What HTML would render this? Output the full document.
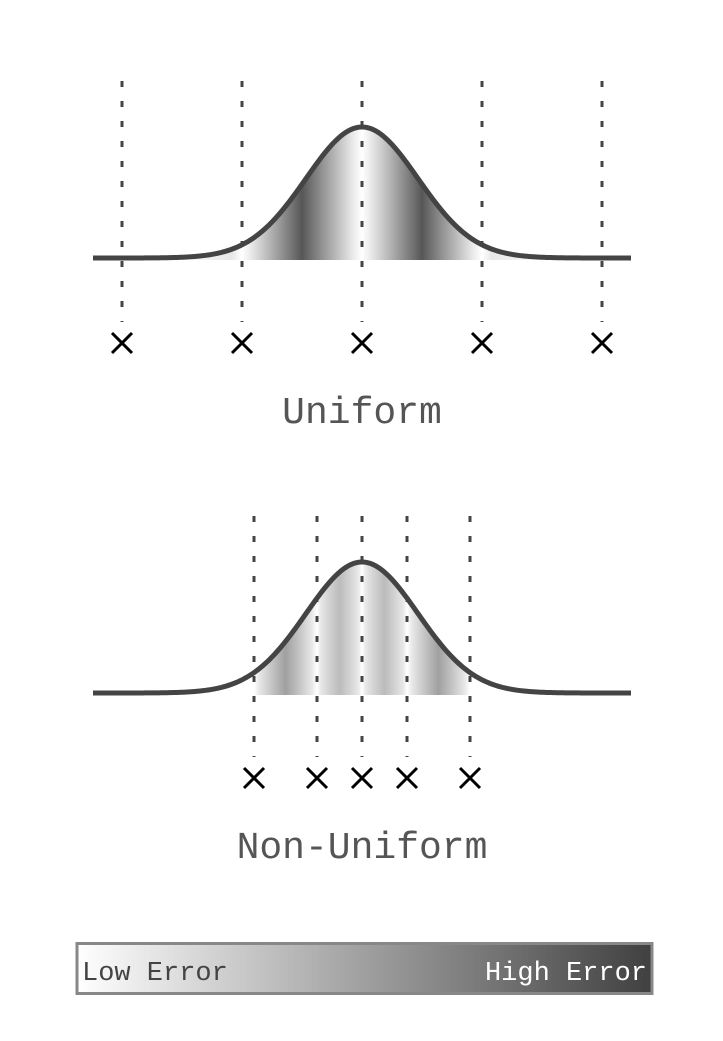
<!DOCTYPE html>
<html><head><meta charset="utf-8"><style>
html,body{margin:0;padding:0;background:#fff;}
svg{display:block;}
text{font-family:"Liberation Mono","DejaVu Sans Mono",monospace;}
</style></head><body>
<svg id="chart" width="723" height="1041" viewBox="0 0 723 1041">
<defs>
<linearGradient id="cbar" x1="0" x2="1" y1="0" y2="0">
<stop offset="0" stop-color="#ffffff"/><stop offset="1" stop-color="#404040"/>
</linearGradient>
</defs>
<g id="panels"></g>
<g>
<rect x="77" y="943.5" width="575" height="50" fill="url(#cbar)" stroke="#888" stroke-width="3"/>
<text x="82" y="980" font-size="27" fill="#444">Low Error</text>
<text x="647" y="980" font-size="27" fill="#fff" text-anchor="end">High Error</text>
</g>
</svg>
<script>
const NS="http://www.w3.org/2000/svg";
const uniformSamples=[-2,-1,0,1,2];
const nonUniformSamples=[-0.9,-0.375,0,0.375,0.9];
const panelTitles=["Uniform","Non-Uniform"];
const midDarkUniform=[1,0.12,0.12,1];
const midDarkNonUniform=[0.5,0.65,0.65,0.5];

const cx=362, unit=120, sigma=56, amp=131;
const xs=v=>cx+v*unit;
function mk(tag,attrs,parent){const e=document.createElementNS(NS,tag);for(const k in attrs)e.setAttribute(k,attrs[k]);parent.appendChild(e);return e;}
function grey(f){const c=Math.round(64+f*(255-64));return `rgb(${c},${c},${c})`;}

const root=document.getElementById('panels');
function panel(samples,darks,title,top,idx){
  const base=top+258;
  const g=mk('g',{},root);
  
  
  const curveY=x=>base-amp*Math.exp(-((x-cx)**2)/(2*sigma*sigma));
  const gid='fill'+idx;
  const defs=mk('defs',{},g);
  const x0=xs(samples[0])-20,x1=xs(samples[samples.length-1])+20;
  const lg=mk('linearGradient',{id:gid,gradientUnits:'userSpaceOnUse',x1:x0,x2:x1,y1:0,y2:0},defs);
  const add=(x,f)=>mk('stop',{offset:((x-x0)/(x1-x0)).toFixed(4),'stop-color':grey(f)},lg);
  add(x0,1);
  for(let i=0;i<samples.length;i++){
    const sx=xs(samples[i]);
    if(i>0){
      const px=xs(samples[i-1]),d=darks[i-1];
      const w=sx-px;
      add(px+w*0.08,0.88);add(px+w*0.3,(d+0.85)/2);add(px+w*0.5,d);add(px+w*0.7,(d+0.85)/2);add(px+w*0.92,0.88);
    }
    add(sx,1);
  }
  add(x1,1);
  let d=`M${x0},${base+2}`;
  for(let x=x0;x<=x1;x+=2)d+=` L${x},${curveY(x)}`;
  d+=` L${x1},${base+2} Z`;
  const f=mk('path',{d:d,fill:`url(#${gid})`},g);
  
  
  samples.forEach(s=>{
    const l=mk('line',{x1:xs(s),x2:xs(s),y1:top+81,y2:top+322,stroke:'#444','stroke-width':3,'stroke-dasharray':'6 14'},g);
    
    
    const y=top+343,r=10;
    const c=mk('path',{d:`M${xs(s)-r},${y-r} L${xs(s)+r},${y+r} M${xs(s)+r},${y-r} L${xs(s)-r},${y+r}`,stroke:'#000','stroke-width':3,fill:'none'},g);
    
    
  });
  let cd='';
  for(let x=93;x<=631;x+=2)cd+=(x===93?'M':' L')+x+','+curveY(x).toFixed(2);
  const cp=mk('path',{d:cd,fill:'none',stroke:'#444','stroke-width':5,'stroke-linejoin':'round'},g);
  
  
  const t=mk('text',{x:cx,y:top+423,'font-size':38,fill:'#555','text-anchor':'middle'},g);
  t.textContent=title;
  
  
}
panel(uniformSamples,midDarkUniform,panelTitles[0],0,0);
panel(nonUniformSamples,midDarkNonUniform,panelTitles[1],435,1);
</script>
</body></html>
